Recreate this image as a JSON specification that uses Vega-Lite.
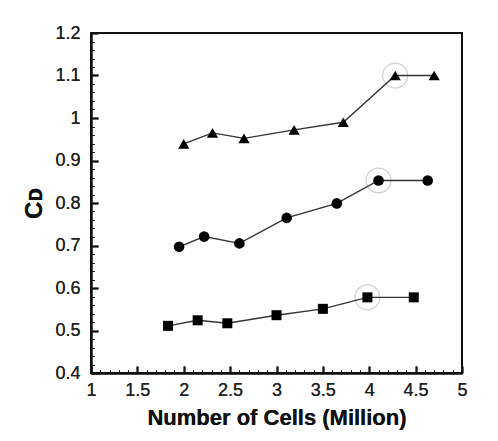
{
  "$schema": "https://vega.github.io/schema/vega-lite/v6.json",
  "autosize": {"type": "none"},
  "width": 371,
  "height": 340,
  "padding": {"left": 91, "top": 33, "right": 36, "bottom": 68},
  "background": "white",
  "config": {
    "view": {"stroke": "#111", "strokeWidth": 2},
    "font": "Liberation Sans"
  },
  "datasets": {
    "runs": [
      {"series": "S1", "cells": 1.83, "cd": 0.511},
      {"series": "S1", "cells": 2.15, "cd": 0.524},
      {"series": "S1", "cells": 2.47, "cd": 0.517},
      {"series": "S1", "cells": 3.0, "cd": 0.536},
      {"series": "S1", "cells": 3.5, "cd": 0.551},
      {"series": "S1", "cells": 3.98, "cd": 0.578},
      {"series": "S1", "cells": 4.48, "cd": 0.578},
      {"series": "S2", "cells": 1.95, "cd": 0.697},
      {"series": "S2", "cells": 2.22, "cd": 0.721},
      {"series": "S2", "cells": 2.6, "cd": 0.705},
      {"series": "S2", "cells": 3.11, "cd": 0.765},
      {"series": "S2", "cells": 3.65, "cd": 0.799},
      {"series": "S2", "cells": 4.1, "cd": 0.853},
      {"series": "S2", "cells": 4.63, "cd": 0.853},
      {"series": "S3", "cells": 2.0, "cd": 0.939},
      {"series": "S3", "cells": 2.31, "cd": 0.965},
      {"series": "S3", "cells": 2.65, "cd": 0.952},
      {"series": "S3", "cells": 3.19, "cd": 0.972},
      {"series": "S3", "cells": 3.72, "cd": 0.99},
      {"series": "S3", "cells": 4.28, "cd": 1.1},
      {"series": "S3", "cells": 4.7, "cd": 1.1}
    ],
    "chosen": [
      {"series": "S1", "cells": 3.98, "cd": 0.578},
      {"series": "S2", "cells": 4.1, "cd": 0.853},
      {"series": "S3", "cells": 4.28, "cd": 1.1}
    ]
  },
  "resolve": {"axis": {"x": "independent", "y": "independent"}},
  "encoding": {
    "x": {
      "field": "cells", "type": "quantitative",
      "scale": {"domain": [1, 5], "nice": false, "zero": false},
      "axis": {
        "orient": "bottom",
        "title": "Number of Cells (Million)",
        "titleFont": "Liberation Sans", "titleFontSize": 22, "titleFontWeight": "bold", "titleColor": "#111",
        "titlePadding": 8,
        "values": [1, 1.5, 2, 2.5, 3, 3.5, 4, 4.5, 5],
        "format": "~g",
        "labelFontSize": 18, "labelColor": "#222", "labelFlush": false, "labelOverlap": false,
        "labelPadding": 15,
        "tickSize": -7,
        "tickWidth": 1.8,
        "tickColor": "#111",
        "domainColor": "#111", "domainWidth": 2,
        "zindex": 1,
        "grid": false
      }
    },
    "y": {
      "field": "cd", "type": "quantitative",
      "scale": {"domain": [0.4, 1.2], "nice": false, "zero": false},
      "axis": {
        "orient": "left",
        "title": "Cᴅ",
        "titleFont": "Liberation Sans", "titleFontSize": 24, "titleFontWeight": "bold", "titleColor": "#111",
        "titlePadding": 8,
        "values": [0.4, 0.5, 0.6, 0.7, 0.8, 0.9, 1, 1.1, 1.2],
        "format": "~g",
        "labelFontSize": 18, "labelColor": "#222", "labelFlush": false, "labelOverlap": false,
        "labelPadding": 18,
        "tickSize": -7,
        "tickWidth": 1.8,
        "tickColor": "#111",
        "domainColor": "#111", "domainWidth": 2,
        "zindex": 1,
        "grid": false
      }
    }
  },
  "layer": [
    {
      "data": {"name": "chosen"},
      "mark": {"type": "point", "shape": "circle", "filled": false, "size": 620, "stroke": "#bbb", "strokeWidth": 1.2},
      "encoding": {
        "x": {
          "field": "cells", "type": "quantitative",
          "scale": {"domain": [1, 5], "nice": false, "zero": false},
          "axis": {
            "orient": "bottom", "title": null, "labels": false, "domain": false, "grid": false,
            "values": [1.1,1.2,1.3,1.4,1.6,1.7,1.8,1.9,2.1,2.2,2.3,2.4,2.6,2.7,2.8,2.9,3.1,3.2,3.3,3.4,3.6,3.7,3.8,3.9,4.1,4.2,4.3,4.4,4.6,4.7,4.8,4.9],
            "tickSize": -3.5, "tickWidth": 1, "tickColor": "#222", "zindex": 1
          }
        },
        "y": {
          "field": "cd", "type": "quantitative",
          "scale": {"domain": [0.4, 1.2], "nice": false, "zero": false},
          "axis": {
            "orient": "left", "title": null, "labels": false, "domain": false, "grid": false,
            "values": [0.42,0.44,0.46,0.48,0.52,0.54,0.56,0.58,0.62,0.64,0.66,0.68,0.72,0.74,0.76,0.78,0.82,0.84,0.86,0.88,0.92,0.94,0.96,0.98,1.02,1.04,1.06,1.08,1.12,1.14,1.16,1.18],
            "tickSize": -3.5, "tickWidth": 1, "tickColor": "#222", "zindex": 1
          }
        }
      }
    },
    {
      "data": {"name": "runs"},
      "mark": {"type": "line", "color": "#333", "strokeWidth": 1.4},
      "encoding": {"detail": {"field": "series"}}
    },
    {
      "data": {"name": "runs"},
      "mark": {"type": "point", "filled": true, "opacity": 1, "color": "#000"},
      "encoding": {
        "shape": {
          "field": "series", "type": "nominal",
          "scale": {"domain": ["S1", "S2", "S3"], "range": ["square", "circle", "triangle-up"]},
          "legend": null
        },
        "size": {
          "field": "series", "type": "nominal",
          "scale": {"domain": ["S1", "S2", "S3"], "range": [100, 125, 180]},
          "legend": null
        }
      }
    }
  ]
}
